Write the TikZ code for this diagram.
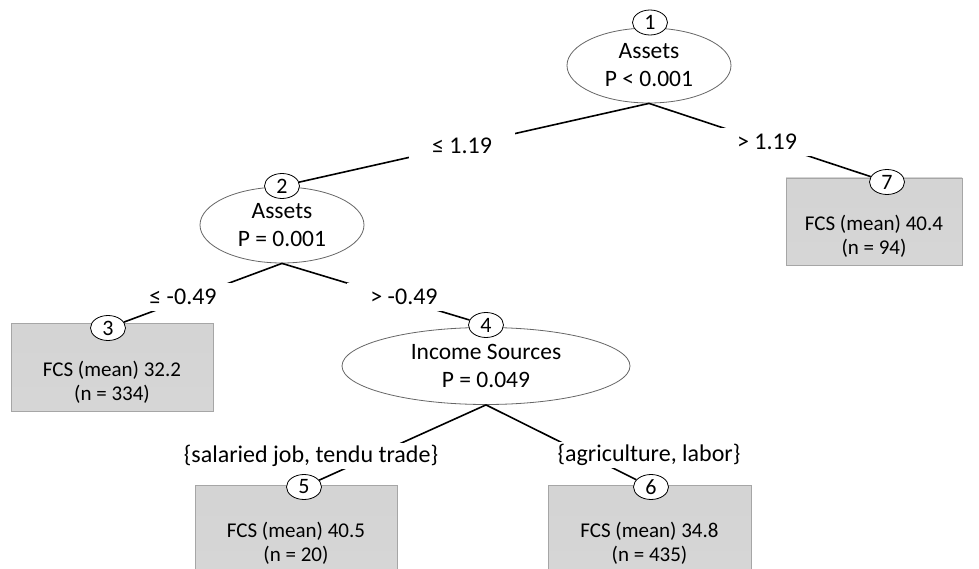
\documentclass[tikz,border=0pt]{standalone}
\usepackage{fontspec}
\setmainfont{Carlito}
\usetikzlibrary{positioning, shapes.geometric}

\definecolor{leafgray}{RGB}{204,204,204}
\definecolor{leafedge}{RGB}{166,166,166}

\tikzset{
  splitnode/.style={ellipse, draw=black!60, line width=0.8pt, fill=white, inner sep=0pt,
    align=center, font=\fontsize{23.5}{28}\selectfont},
  idnode/.style={ellipse, draw=black, line width=0.8pt, fill=white, inner sep=0pt,
    minimum width=35, minimum height=25, font=\fontsize{22}{24}\selectfont},
  leafbox/.style={rectangle, draw=leafedge, line width=0.8pt,
    top color=leafgray!85, bottom color=leafgray!105!black},
  leaftext/.style={align=center, font=\fontsize{21}{24}\selectfont},
  edgelab/.style={fill=white, inner xsep=23pt, inner ysep=6pt, font=\fontsize{24}{26}\selectfont},
  branch/.style={line width=1.6pt, black}
}

\begin{document}
\begin{tikzpicture}[x=1pt, y=-1pt]

\clip (0,0) rectangle (979,569);
\fill[white] (0,0) rectangle (979,569);

% Terminal nodes
\node[leafbox, minimum width=202, minimum height=88] (b3) at (112,367) {};
\node[leafbox, minimum width=176, minimum height=87] (b7) at (874,221.5) {};
\node[leafbox, minimum width=202, minimum height=90] (b5) at (296,530) {};
\node[leafbox, minimum width=203, minimum height=90] (b6) at (649.5,530) {};

\node[leaftext] (t3) at (112,382) {FCS (mean) 32.2\\(n = 334)};
\node[leaftext] (t7) at (874,236) {FCS (mean) 40.4\\(n = 94)};
\node[leaftext] (t5) at (296,543) {FCS (mean) 40.5\\(n = 20)};
\node[leaftext] (t6) at (649.5,543) {FCS (mean) 34.8\\(n = 435)};

% Inner nodes
\node[splitnode, minimum width=164, minimum height=75] (e1) at (649,65.5) {Assets\\P < 0.001};
\node[splitnode, minimum width=164, minimum height=76] (e2) at (282,225) {Assets\\P = 0.001};
\node[splitnode, minimum width=288, minimum height=77] (e4) at (486,366) {Income Sources\\P = 0.049};

% Node numbers
\node[idnode] (c1) at (650,22.5) {1};
\node[idnode] (c2) at (282,186) {2};
\node[idnode] (c3) at (108,328) {3};
\node[idnode] (c4) at (486,325) {4};
\node[idnode] (c5) at (304,487) {5};
\node[idnode] (c6) at (651,487) {6};
\node[idnode] (c7) at (887,182) {7};

% Branches
\foreach \from/\to in {e1/c2, e1/c7, e2/c3, e2/c4, e4/c5, e4/c6}
  \draw[branch] (\from.south) -- (\to);

% Split labels
\node[edgelab] (l12) at (462,146) {≤ 1.19};
\node[edgelab, inner xsep=20pt] (l17) at (767,142) {> 1.19};
\node[edgelab] (l23) at (183,297) {≤ -0.49};
\node[edgelab] (l24) at (404,297) {> -0.49};
\node[edgelab, inner xsep=4pt, inner ysep=2.5pt] (l45) at (311,456) {\{salaried job, tendu trade\}};
\node[edgelab, inner xsep=4pt, inner ysep=2.5pt] (l46) at (649,455) {\{agriculture, labor\}};

\end{tikzpicture}
\end{document}
